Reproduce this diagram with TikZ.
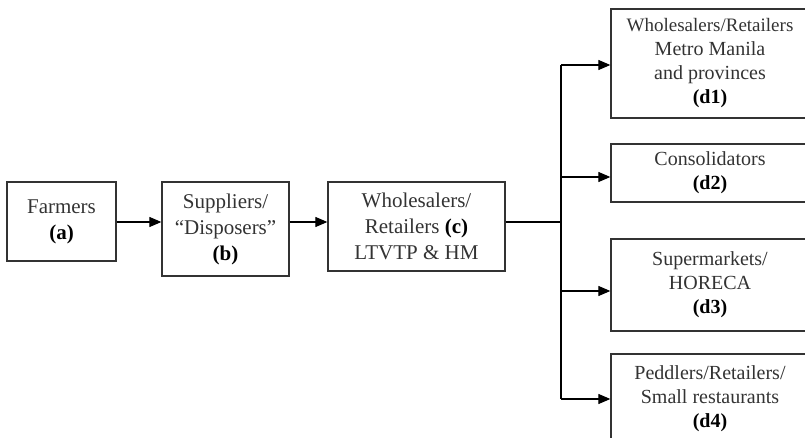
\documentclass[tikz,border=0pt]{standalone}
\usepackage{fontspec}
\setmainfont{Liberation Serif}
\usetikzlibrary{arrows.meta}
\begin{document}
\begin{tikzpicture}[x=1pt,y=-1pt,
  box/.style={draw=black!80, line width=1.3pt, inner sep=0pt, align=center,
    font=\fontsize{21}{26}\selectfont, text=black!80},
  dbox/.style={box, font=\fontsize{20}{24}\selectfont},
  conn/.style={line width=1.2pt, draw=black},
  arr/.style={conn, -{Triangle[length=12pt,width=10pt]}}]
\useasboundingbox (0,0) rectangle (805,438);
\clip (0,0) rectangle (805,438);
\newcommand{\lbl}[1]{\textbf{\color{black}#1}}
\node[box, minimum width=109pt, minimum height=79pt] (a) at (61.5,221.5) {Farmers\\\lbl{(a)}};
\node[box, minimum width=127pt, minimum height=94pt] (b) at (225.5,229) {Suppliers/\\“Disposers”\\\lbl{(b)}};
\node[box, minimum width=177pt, minimum height=89pt] (c) at (416.5,226.5) {Wholesalers/\\Retailers \lbl{(c)}\\LTVTP \& HM};
\node[dbox, minimum width=198pt, minimum height=109pt] (d1) at (710,63.5) {{\fontsize{19}{24}\selectfont Wholesalers/Retailers}\\Metro Manila\\and provinces\\\lbl{(d1)}};
\node[dbox, minimum width=198pt, minimum height=58pt] (d2) at (710,173) {Consolidators\\\lbl{(d2)}};
\node[dbox, minimum width=198pt, minimum height=92pt] (d3) at (710,285) {Supermarkets/\\HORECA\\\lbl{(d3)}};
\node[dbox, minimum width=198pt, minimum height=90pt] (d4) at (710,399) {Peddlers/Retailers/\\Small restaurants\\\lbl{(d4)}};
\coordinate (ya) at (0,222);
\coordinate (jx) at (561,222);
\coordinate (y1) at (561,65);
\coordinate (y2) at (561,177);
\coordinate (y3) at (561,291);
\coordinate (y4) at (561,399);
\draw[arr] (a.east |- ya) -- (b.west |- ya);
\draw[arr] (b.east |- ya) -- (c.west |- ya);
\draw[conn] (c.east |- ya) -- (jx);
\draw[conn] (y1) -- (y4);
\draw[arr] (y1) -- (y1 -| d1.west);
\draw[arr] (y2) -- (y2 -| d2.west);
\draw[arr] (y3) -- (y3 -| d3.west);
\draw[arr] (y4) -- (y4 -| d4.west);
\end{tikzpicture}
\end{document}
